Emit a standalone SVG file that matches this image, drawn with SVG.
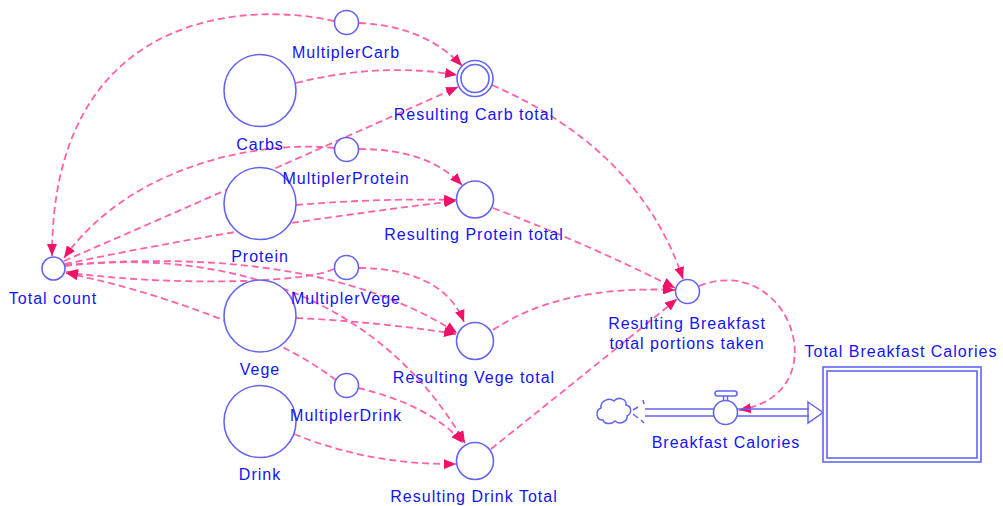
<svg xmlns="http://www.w3.org/2000/svg" width="1003" height="506" viewBox="0 0 1003 506">
  <style>
    .node { fill: #ffffff; stroke: #6464f4; stroke-width: 1.6; }
    .lbl { font-family: "Liberation Sans", Arial, sans-serif; font-size: 16px; letter-spacing: 1px; fill: #1414f0; text-anchor: middle; }
    .link { fill: none; stroke: #ff62a6; stroke-width: 1.8; stroke-dasharray: 7 4; marker-end: url(#arrow); }
    .pipe { fill: none; stroke: #6464f4; stroke-width: 1.5; }
  </style>
  <defs>
    <marker id="arrow" markerUnits="userSpaceOnUse" markerWidth="12" markerHeight="10" refX="12" refY="5" orient="auto">
      <path d="M0,0 L12,5 L0,10 z" fill="#ef1268"/>
    </marker>
  </defs>
  <rect width="1003" height="506" fill="#ffffff"/>

  <!-- influence links -->
  <g id="connectors">
    <path class="link" d="M334,21 C240,0 52,15 52,256"/>
    <path class="link" d="M359,23 Q425,26 462,66"/>
    <path class="link" d="M296,83 Q380,62 457,75"/>
    <path class="link" d="M64,261 Q250,180 458,87"/>
    <path class="link" d="M334,148 C260,140 130,165 64,258"/>
    <path class="link" d="M359,149 Q428,149 462,185"/>
    <path class="link" d="M296,205 Q380,198 456,200"/>
    <path class="link" d="M65,264 Q250,225 456,201"/>
    <path class="link" d="M65,265 C220,252 360,270 457,333"/>
    <path class="link" d="M65,266 C200,250 370,280 465,443"/>
    <path class="link" d="M359,268 C410,268 450,285 464,322"/>
    <path class="link" d="M296,318 Q380,322 456,334"/>
    <path class="link" d="M334,269 C300,285 150,285 66,272"/>
    <path class="link" d="M336,380 C270,330 150,290 66,273"/>
    <path class="link" d="M358,388 Q430,405 463,443"/>
    <path class="link" d="M294,434 Q370,465 456,464"/>
    <path class="link" d="M492,85 Q640,150 683,279"/>
    <path class="link" d="M493,208 Q590,245 675,288"/>
    <path class="link" d="M493,330 Q560,285 675,290"/>
    <path class="link" d="M491,449 Q590,370 677,299"/>
    <path class="link" d="M699,286 C790,250 840,395 739,410"/>
  </g>

  <g id="total-count">
    <circle class="node" cx="53.5" cy="268.5" r="11.5"/>
    <text class="lbl" x="53" y="304">Total count</text>
  </g>

  <g id="carbs">
    <circle class="node" cx="260" cy="90.5" r="36"/>
    <text class="lbl" x="260" y="150">Carbs</text>
  </g>
  <g id="protein">
    <circle class="node" cx="260" cy="203.5" r="36"/>
    <text class="lbl" x="260" y="262">Protein</text>
  </g>
  <g id="vege">
    <circle class="node" cx="260" cy="316" r="36"/>
    <text class="lbl" x="260" y="375">Vege</text>
  </g>
  <g id="drink">
    <circle class="node" cx="260" cy="421.5" r="36"/>
    <text class="lbl" x="260" y="480">Drink</text>
  </g>

  <g id="multipler-carb">
    <circle class="node" cx="346.5" cy="22.5" r="12"/>
    <text class="lbl" x="346" y="58">MultiplerCarb</text>
  </g>
  <g id="multipler-protein">
    <circle class="node" cx="346.5" cy="149.5" r="12"/>
    <text class="lbl" x="346" y="184">MultiplerProtein</text>
  </g>
  <g id="multipler-vege">
    <circle class="node" cx="346.5" cy="267.5" r="12"/>
    <text class="lbl" x="346" y="304">MultiplerVege</text>
  </g>
  <g id="multipler-drink">
    <circle class="node" cx="346.5" cy="385.5" r="12"/>
    <text class="lbl" x="346" y="421">MultiplerDrink</text>
  </g>

  <g id="resulting-carb-total">
    <circle class="node" cx="475" cy="78.5" r="18"/>
    <circle class="node" cx="475" cy="78.5" r="14"/>
    <text class="lbl" x="474" y="120">Resulting Carb total</text>
  </g>
  <g id="resulting-protein-total">
    <circle class="node" cx="475" cy="199.5" r="18.5"/>
    <text class="lbl" x="474" y="240">Resulting Protein total</text>
  </g>
  <g id="resulting-vege-total">
    <circle class="node" cx="475" cy="341" r="18.5"/>
    <text class="lbl" x="474" y="383">Resulting Vege total</text>
  </g>
  <g id="resulting-drink-total">
    <circle class="node" cx="475" cy="461" r="18.5"/>
    <text class="lbl" x="474" y="502">Resulting Drink Total</text>
  </g>

  <g id="resulting-breakfast">
    <circle class="node" cx="687.5" cy="291.5" r="12"/>
    <text class="lbl" x="687" y="329">Resulting Breakfast</text>
    <text class="lbl" x="687" y="349">total portions taken</text>
  </g>

  <g id="source-cloud">
    <path class="pipe" fill="#ffffff" d="M603,420 C596,421 595,410 601,408 C600,401 609,397 614,401 C618,396 627,399 626,405 C632,406 632,414 627,416 C628,422 619,425 615,421 C611,425 604,424 603,420 z"/>
    <path class="pipe" d="M638,407 L633,410 M643,400 L644,404 M633,414 L638,418 M641,420 L644,423"/>
  </g>

  <g id="breakfast-calories">
    <path class="pipe" d="M645,409 L714,409 M645,416 L714,416 M737,409 L809,409 M737,416 L809,416"/>
    <path class="pipe" fill="#ffffff" d="M808,402 L823,412.5 L808,423 z"/>
    <circle class="node" cx="725.5" cy="412.5" r="12"/>
    <path class="pipe" d="M723.5,400.5 L723.5,396 M727.5,400.5 L727.5,396"/>
    <rect class="node" x="715" y="391" width="22" height="5" rx="2.5"/>
    <text class="lbl" x="726" y="448">Breakfast Calories</text>
  </g>

  <g id="total-breakfast-calories">
    <rect class="node" x="823" y="367" width="158" height="95"/>
    <rect class="node" x="827" y="371" width="150" height="87"/>
    <text class="lbl" x="901" y="357">Total Breakfast Calories</text>
  </g>
</svg>
